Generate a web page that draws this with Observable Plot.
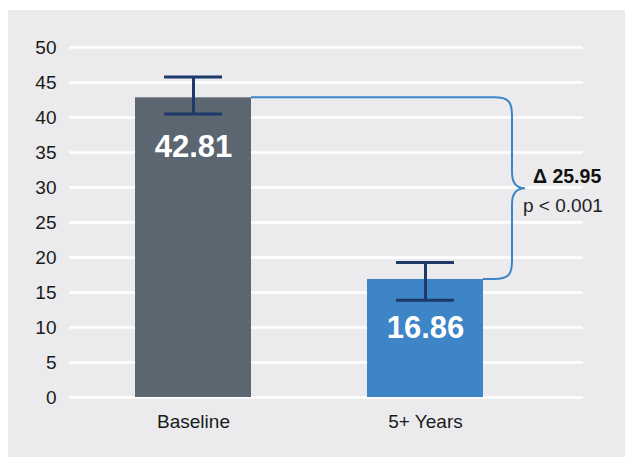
<!DOCTYPE html>
<html>
<head>
<meta charset="utf-8">
<script src="https://cdn.jsdelivr.net/npm/d3@7"></script>
<script src="https://cdn.jsdelivr.net/npm/@observablehq/plot@0.6"></script>
<style>
  html, body { margin: 0; padding: 0; background: #ffffff; }
  #wrap { position: relative; width: 625px; height: 457px; overflow: hidden; }
  #panel { position: absolute; left: 8px; top: 10px; width: 617px; height: 447px; background: #ebebee; }
  #chart { position: absolute; left: 0; top: 0; }
  #chart svg { background: transparent; }
</style>
</head>
<body>
<div id="wrap"><div id="panel"></div><div id="chart"></div></div>
<script>
// ---- data ----
const categories = ["Baseline", "5+ Years"];
const values = [42.81, 16.86];
const errLow = [40.5, 13.9];
const errHigh = [45.8, 19.3];
const yTicks = [0, 5, 10, 15, 20, 25, 30, 35, 40, 45, 50];
const deltaLabel = "Δ 25.95";
const pLabel = "p < 0.001";

const data = categories.map((c, i) => ({cat: c, value: values[i], lo: errLow[i], hi: errHigh[i]}));

const font = "'Liberation Sans', Arial, Helvetica, sans-serif";

// custom mark: curly brace between the two bar tops, with annotation
const braceMark = (index, scales, vals, dims) => {
  const x = scales.x, y = scales.y;
  const bw = x.bandwidth();
  const xL = x(categories[0]) + bw;
  const xR = x(categories[1]) + bw;
  const yTop = y(values[0]);
  const yBot = y(values[1]);
  const yMid = y((values[0] + values[1]) / 2);
  const bx = xR + 29;
  const tip = bx + 13;
  const r = 18;
  const path = [
    `M${xL},${yTop}`,
    `H${bx - r}`,
    `C${bx - 4},${yTop} ${bx},${yTop + 4} ${bx},${yTop + r}`,
    `V${yMid - 16}`,
    `C${bx},${yMid - 4} ${tip - 7},${yMid} ${tip},${yMid}`,
    `C${tip - 7},${yMid} ${bx},${yMid + 4} ${bx},${yMid + 16}`,
    `V${yBot - r}`,
    `C${bx},${yBot - 4} ${bx - 4},${yBot} ${bx - r},${yBot}`,
    `H${xR}`
  ].join(" ");
  const g = d3.create("svg:g").attr("text-anchor", "start");
  g.append("path")
    .attr("d", path)
    .attr("fill", "none")
    .attr("stroke", "#3d86c6")
    .attr("stroke-width", 2);
  g.append("text")
    .attr("x", tip + 8).attr("y", yMid - 12)
    .attr("dy", "0.35em")
    .attr("font-family", font).attr("font-size", 19.5).attr("font-weight", "bold")
    .attr("fill", "#111")
    .text(deltaLabel);
  g.append("text")
    .attr("x", tip - 2).attr("y", yMid + 17)
    .attr("dy", "0.35em")
    .attr("font-family", font).attr("font-size", 19)
    .attr("fill", "#222")
    .text(pLabel);
  return g.node();
};

const chart = Plot.plot({
  width: 625,
  height: 457,
  marginTop: 47,
  marginBottom: 60,
  marginLeft: 69,
  marginRight: 42,
  style: {background: "transparent", fontFamily: font, fontSize: "19px", color: "#1a1a1a"},
  x: {type: "band", domain: categories, range: [19, 599], padding: 0.5, round: false, label: null},
  y: {domain: [0, 50], range: [397, 47], label: null},
  color: {domain: categories, range: ["#5c6670", "#3d85c6"]},
  marks: [
    Plot.ruleY(yTicks, {stroke: "#ffffff", strokeWidth: 2.5}),
    Plot.axisY({ticks: yTicks, tickSize: 0, tickPadding: 13, fontSize: 19, label: null, fill: "#1a1a1a"}),
    Plot.axisX({tickSize: 0, tickPadding: 17, fontSize: 19, label: null, fill: "#1a1a1a"}),
    Plot.barY(data, {x: "cat", y: "value", fill: "cat"}),
    Plot.ruleX(data, {x: "cat", y1: "lo", y2: "hi", stroke: "#1d3a6b", strokeWidth: 3}),
    Plot.tickY(data, {x: "cat", y: "lo", insetLeft: 29, insetRight: 29, stroke: "#1d3a6b", strokeWidth: 3}),
    Plot.tickY(data, {x: "cat", y: "hi", insetLeft: 29, insetRight: 29, stroke: "#1d3a6b", strokeWidth: 3}),
    Plot.text(data, {x: "cat", y: "value", text: d => d.value.toFixed(2), dy: 49, fill: "#ffffff", fontWeight: "bold", fontSize: 31}),
    braceMark
  ]
});
document.getElementById("chart").appendChild(chart);
</script>
</body>
</html>
